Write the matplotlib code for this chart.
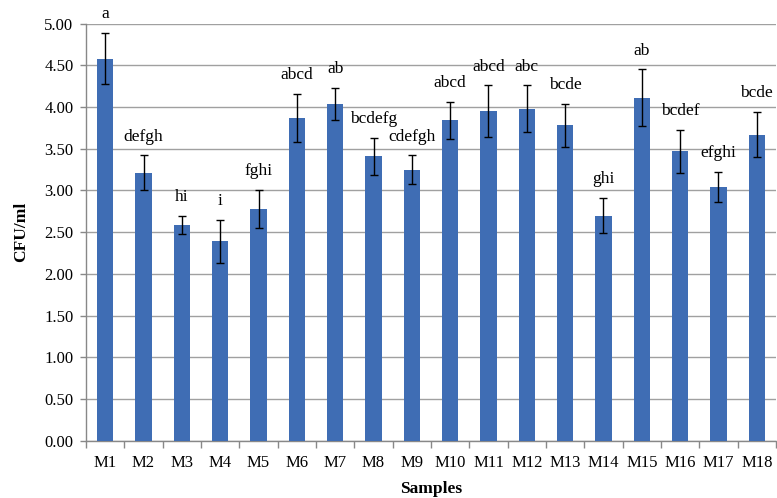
import matplotlib
matplotlib.use("Agg")
import matplotlib.pyplot as plt
import numpy as np

samples = ["M1", "M2", "M3", "M4", "M5", "M6", "M7", "M8", "M9", "M10",
           "M11", "M12", "M13", "M14", "M15", "M16", "M17", "M18"]
values = [4.58, 3.21, 2.59, 2.39, 2.78, 3.87, 4.04, 3.41, 3.25, 3.84,
          3.95, 3.98, 3.78, 2.70, 4.11, 3.47, 3.04, 3.67]
errors = [0.31, 0.21, 0.11, 0.26, 0.23, 0.29, 0.19, 0.22, 0.17, 0.22,
          0.31, 0.28, 0.26, 0.21, 0.34, 0.26, 0.18, 0.27]
letters = ["a", "defgh", "hi", "i", "fghi", "abcd", "ab", "bcdefg", "cdefgh", "abcd",
           "abcd", "abc", "bcde", "ghi", "ab", "bcdef", "efghi", "bcde"]
yticks = [0.0, 0.5, 1.0, 1.5, 2.0, 2.5, 3.0, 3.5, 4.0, 4.5, 5.0]

plt.rcParams['font.family'] = ['Liberation Serif', 'DejaVu Serif']

fig = plt.figure(figsize=(7.77, 4.98), dpi=100)
ax = fig.add_axes([0.1107, 0.1145, 0.888, 0.8383])

x = np.arange(len(samples))
ax.bar(x, values, width=0.42, color='#3F6DB4', zorder=3)
ax.errorbar(x, values, yerr=errors, fmt='none', ecolor='black', elinewidth=1.0,
            capsize=2.8, capthick=1.0, zorder=4)

for xi, v, e, lab in zip(x, values, errors, letters):
    ax.annotate(lab, (xi, v + e), xytext=(0, 13.5), textcoords='offset points',
                ha='center', va='center', fontsize=12.5, color='black')

ax.set_xlim(-0.5, len(samples) - 0.5)
ax.set_ylim(0, 5)
ax.set_yticks(yticks)
ax.set_yticklabels([f"{t:.2f}" for t in yticks], fontsize=12)
ax.set_xticks(x)
ax.set_xticklabels(samples, fontsize=12)
ax.set_xticks(np.arange(-0.5, len(samples)), minor=True)
ax.tick_params(axis='x', which='major', length=0, pad=10)
ax.tick_params(axis='x', which='minor', length=5, color='#888888', width=1)
ax.tick_params(axis='y', which='major', length=4, color='#888888', width=1, pad=5)

ax.yaxis.grid(True, color='#A0A0A0', linewidth=1.0, zorder=0)
ax.set_axisbelow(True)
for s in ['top', 'right']:
    ax.spines[s].set_visible(False)
for s in ['left', 'bottom']:
    ax.spines[s].set_color('#888888')
    ax.spines[s].set_linewidth(1.0)

ax.set_ylabel("CFU/ml", fontsize=12.5, fontweight='bold', labelpad=11)
ax.set_xlabel("Samples", fontsize=12.5, fontweight='bold', labelpad=7)

fig.savefig("out.png", dpi=100)
